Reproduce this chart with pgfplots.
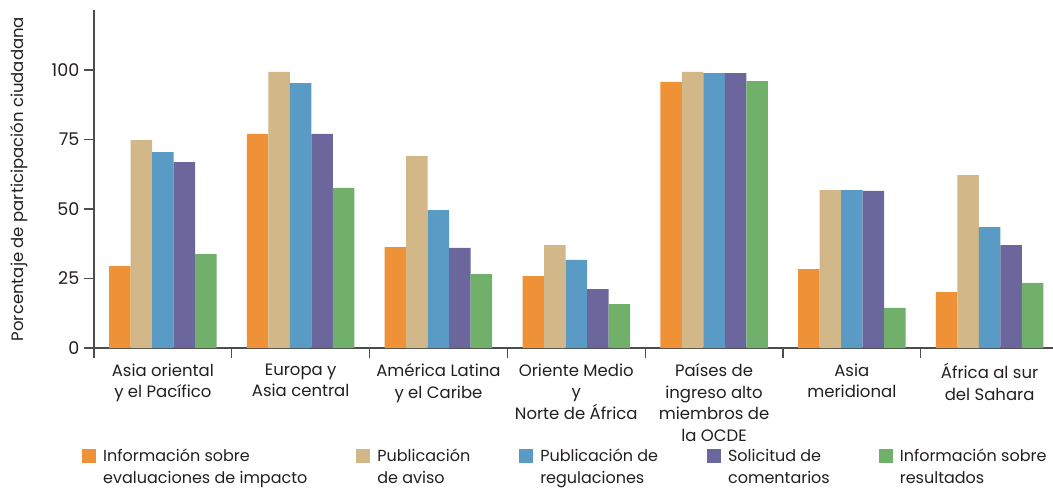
\documentclass[border=0pt]{standalone}
\usepackage{fontspec}
\setmainfont{Poppins}
\usepackage{pgfplots}
\pgfplotsset{compat=1.18}
\definecolor{cOr}{HTML}{EF9137}
\definecolor{cTan}{HTML}{D2B789}
\definecolor{cBlu}{HTML}{5A9BC5}
\definecolor{cPur}{HTML}{6B679C}
\definecolor{cGrn}{HTML}{70B06A}
\definecolor{axcol}{HTML}{4D4D4D}
\definecolor{txt}{HTML}{231F20}
\begin{document}
\fontsize{16.5}{21.5}\selectfont
\begin{tikzpicture}
\path[use as bounding box] (-94pt,-140pt) rectangle (959pt,348pt);
\begin{axis}[
    scale only axis, width=959pt, height=338pt,
    xmin=-0.5, xmax=6.46, ymin=0, ymax=121.6,
    ybar=0pt, bar width=21.5pt,
    axis x line*=bottom, axis y line*=left,
    axis line style={draw=axcol, line width=1.2pt, -},
    tick align=outside, major tick length=10pt,
    tick style={draw=axcol, line width=1.2pt},
    ytick={0,25,50,75,100},
    /pgf/number format/assume math mode=true,
    yticklabel style={xshift=1pt, font=\fontsize{17.5}{21}\selectfont, text=txt},
    xtick={-0.5,0.5,...,5.5}, xticklabels={},
    extra x ticks={0,1,2,3,4,5,6},
    extra x tick labels={Asia oriental\\y el Pacífico, Europa y\\Asia central, América Latina\\y el Caribe, Oriente Medio\\y\\Norte de África, Países de\\ingreso alto\\miembros de\\la OCDE, Asia\\meridional, África al sur\\del Sahara},
    extra x tick style={tick style={draw=none}, xticklabel style={align=center, anchor=north, yshift=0pt, text=txt}},
    ylabel={Porcentaje de participación ciudadana},
    ylabel style={at={([xshift=-75pt]axis description cs:0,0.5)}, anchor=center, text=txt},
    legend columns=5,
    legend cell align=left,
    legend image code/.code={\fill[#1] (0pt,5pt) rectangle (14pt,19pt);},
    legend style={draw=none, fill=none, at={(axis description cs:0,0)}, anchor=north west, xshift=-12pt, yshift=-99pt, inner sep=0pt, font=\fontsize{16}{21.5}\selectfont, /tikz/every odd column/.append style={column sep=5pt}, /tikz/every even column/.append style={column sep=47pt}, nodes={align=left, text=txt}},
]
\addplot[fill=cOr, draw=none] coordinates {(0,29.5) (1,77) (2,36.3) (3,25.9) (4,95.7) (5,28.4) (6,20.1)};
\addplot[fill=cTan, draw=none] coordinates {(0,74.8) (1,99.3) (2,69) (3,37) (4,99.3) (5,56.8) (6,62.2)};
\addplot[fill=cBlu, draw=none] coordinates {(0,70.5) (1,95.3) (2,49.6) (3,31.7) (4,98.9) (5,56.8) (6,43.5)};
\addplot[fill=cPur, draw=none] coordinates {(0,66.9) (1,77) (2,36) (3,21.2) (4,98.9) (5,56.5) (6,37)};
\addplot[fill=cGrn, draw=none] coordinates {(0,33.8) (1,57.6) (2,26.6) (3,15.8) (4,96) (5,14.4) (6,23.4)};
\legend{Información sobre\\evaluaciones de impacto, Publicación\\de aviso, Publicación de\\regulaciones, Solicitud de\\comentarios, Información sobre\\resultados}
\end{axis}
\end{tikzpicture}
\end{document}
